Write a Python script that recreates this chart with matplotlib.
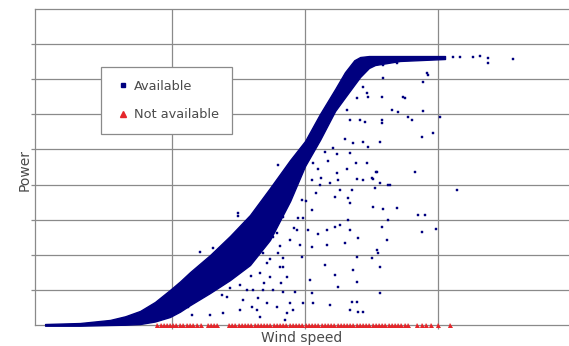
import matplotlib
matplotlib.use("Agg")
import matplotlib.pyplot as plt
from matplotlib.lines import Line2D

# ---- Data (wind speed in m/s, power in kW) ----
# Dense band of "Available" points: wind speed with lower / upper power edge
band_speed = [0.23, 1.54, 2.67, 3.24, 3.80, 4.36, 4.92, 5.30, 5.68, 6.43, 7.18, 7.93, 8.68,
              9.44, 10.00, 10.56, 11.13, 11.50, 11.85, 12.07, 12.40, 12.63, 13.57, 15.26]
band_upper = [7, 14, 36, 62, 100, 164, 249, 310, 377, 498, 634, 783, 975,
              1175, 1310, 1502, 1680, 1800, 1885, 1908, 1915, 1915, 1915, 1915]
band_lower = [-5, -5, 0, 2, 7, 25, 57, 95, 142, 228, 320, 427, 605,
              883, 1132, 1317, 1524, 1620, 1710, 1766, 1830, 1851, 1880, 1894]

# Scattered "Available" points away from the band
avail_speed = [11.50, 11.80, 12.18, 12.37, 12.82, 14.40, 14.81, 10.75, 11.20, 11.69,
               10.86, 11.92, 12.33, 10.30, 10.49, 11.20, 11.58, 12.67, 14.14, 10.26,
               11.24, 11.95, 12.18, 12.56, 10.56, 10.94, 12.82, 13.12, 15.71, 11.32,
               11.77, 9.89, 11.62, 11.69, 12.56, 12.93, 13.46, 10.26, 11.13, 9.92,
               9.17, 11.62, 13.12, 14.25, 14.51, 9.70, 10.11, 10.49, 10.83, 11.13,
               11.32, 11.69, 11.99, 12.89, 14.40, 14.92, 8.80, 8.95, 9.44, 9.81,
               10.26, 10.83, 11.50, 13.08, 8.42, 9.17, 9.89, 11.95, 12.52, 12.74,
               8.57, 9.17, 10.75, 11.13, 11.80, 11.95, 12.82, 8.31, 8.68, 9.32,
               10.19, 12.82, 8.42, 9.17, 9.62, 10.26, 11.24, 8.57, 9.44, 9.92,
               10.30, 10.94, 11.69, 11.95, 12.18, 9.32, 8.31, 12.93, 14.62, 14.44,
               12.89, 13.68, 13.76, 13.27, 13.50, 13.87, 14.02, 14.44, 15.08, 12.89,
               12.71, 12.52, 13.20, 12.63, 12.71, 15.56, 15.83, 16.32, 16.58, 16.88,
               16.88, 17.82, 12.18, 12.37, 11.95, 11.58, 11.69, 12.07, 12.26, 12.93,
               13.46, 14.59, 12.33, 12.89, 6.05, 6.54, 7.48, 7.48, 5.38, 5.60,
               6.05, 6.43, 6.92, 7.56, 7.67, 8.01, 6.88, 7.18, 7.56, 7.82,
               7.07, 4.17, 8.05, 8.20, 8.80, 8.98, 9.06, 8.95, 9.25, 5.75,
               8.98, 11.77, 11.99, 9.55, 8.70, 9.05, 9.60, 9.10, 10.05, 8.45,
               10.60, 9.75, 8.25, 7.95, 10.40, 11.05]
avail_power = [1324, 1296, 1303, 1267, 1303, 1339, 1367, 1232, 1218, 1225,
               1168, 1153, 1153, 1153, 1111, 1082, 1111, 1089, 1089, 1032,
               1032, 1040, 1032, 1040, 997, 1011, 1011, 997, 961, 961,
               961, 890, 904, 869, 840, 826, 833, 819, 911, 762,
               769, 748, 748, 783, 783, 676, 676, 648, 676, 698,
               712, 676, 619, 698, 662, 684, 627, 655, 605, 570,
               555, 570, 584, 605, 513, 477, 484, 484, 477, 513,
               441, 413, 427, 356, 392, 306, 413, 370, 342, 342,
               320, 228, 249, 235, 235, 228, 271, 157, 157, 157,
               157, 142, 107, 164, 93, 85, 57, 1759, 1780, 1730,
               1623, 1623, 1616, 1531, 1517, 1481, 1460, 1524, 1481, 1438,
               1089, 1047, 997, 975, 534, 1908, 1908, 1908, 1915, 1901,
               1865, 1894, 1695, 1623, 1616, 1531, 1460, 1460, 1445, 1851,
               1865, 1794, 1652, 1460, 520, 548, 797, 776, 178, 128,
               199, 71, 85, 107, 178, 128, 214, 263, 285, 249,
               199, 50, 249, 107, 249, 513, 413, 128, 36, 71,
               1139, 164, 93, 107, 470, 560, 690, 300, 880, 300,
               1050, 760, 190, 350, 940, 1260]

# "Not available" points (all at zero power)
not_avail_speed = [4.45, 4.57, 4.68, 4.80, 4.93, 5.05, 5.16, 5.30, 5.42, 5.55,
                   5.66, 5.80, 5.95, 6.10, 6.35, 6.45, 6.58, 6.70,
                   7.15, 7.27, 7.38, 7.50, 7.62, 7.75, 7.86, 7.98, 8.10, 8.22,
                   8.35, 8.47, 8.58, 8.70, 8.83, 8.95, 9.06, 9.18, 9.30, 9.42,
                   9.55, 9.67, 9.78, 9.90, 10.02, 10.15, 10.27, 10.38, 10.50, 10.62,
                   10.75, 10.87, 10.98, 11.10, 11.22, 11.35, 11.47, 11.58, 11.70, 11.82,
                   11.95, 12.07, 12.18, 12.30, 12.42, 12.55, 12.67, 12.78, 12.90, 13.02,
                   13.15, 13.27, 13.38, 13.50, 13.62, 13.75, 13.88,
                   14.22, 14.40, 14.55, 14.75, 15.00, 15.45]
not_avail_power = [0.0] * len(not_avail_speed)

grid_speed = [5, 10, 15]
grid_power = [250, 500, 750, 1000, 1250, 1500, 1750, 2000]

# ---- Figure ----
navy = "#00007f"
red = "#e5262b"
gridc = "#8a8a8a"
textc = "#4a4a4a"

fig = plt.figure(figsize=(5.69, 3.46), dpi=100)
ax = fig.add_axes([35 / 569, 21 / 346, 534 / 569, 316 / 346])

ax.set_xlim(-0.15, 19.92)
ax.set_ylim(0, 2250)
ax.set_xticks(grid_speed)
ax.set_yticks(grid_power)
ax.set_xticklabels([])
ax.set_yticklabels([])
ax.grid(True, color=gridc, linewidth=0.9)
ax.set_axisbelow(True)
ax.tick_params(axis="both", direction="out", length=3, color=gridc, width=0.9)

for side in ["left", "bottom", "top"]:
    ax.spines[side].set_color(gridc)
    ax.spines[side].set_linewidth(0.9)
ax.spines["right"].set_visible(False)

# dense band
ax.fill_between(band_speed, band_lower, band_upper, color=navy,
                linewidth=1.0, edgecolor=navy, zorder=3, clip_on=False)
# scattered available points
ax.plot(avail_speed, avail_power, linestyle="none", marker="s", markersize=1.8,
        color=navy, markeredgewidth=0.3, zorder=3)
# not available
ax.plot(not_avail_speed, not_avail_power, linestyle="none", marker="^",
        markersize=3.6, color=red, markeredgewidth=0, zorder=4, clip_on=False)

fig.text(302 / 569, 1 - 338 / 346, "Wind speed", fontsize=10, color=textc,
         ha="center", va="center")
fig.text(25 / 569, 1 - 170 / 346, "Power", fontsize=10, color=textc,
         ha="center", va="center", rotation=90)

handles = [
    Line2D([], [], linestyle="none", marker="s", markersize=2.2, color=navy),
    Line2D([], [], linestyle="none", marker="^", markersize=4.5, color=red),
]
leg = ax.legend(handles, ["Available", "Not available"],
                loc="upper left", bbox_to_anchor=((101 - 35) / 534, (325 - 67) / 316),
                borderaxespad=0, fontsize=9.3, frameon=True, fancybox=False,
                edgecolor="#8a8a8a", framealpha=1, handlelength=1.4,
                handletextpad=0.15, borderpad=1.0, labelspacing=1.2)
leg.get_frame().set_linewidth(0.9)
for t in leg.get_texts():
    t.set_color(textc)

fig.savefig("out.png", dpi=100)
